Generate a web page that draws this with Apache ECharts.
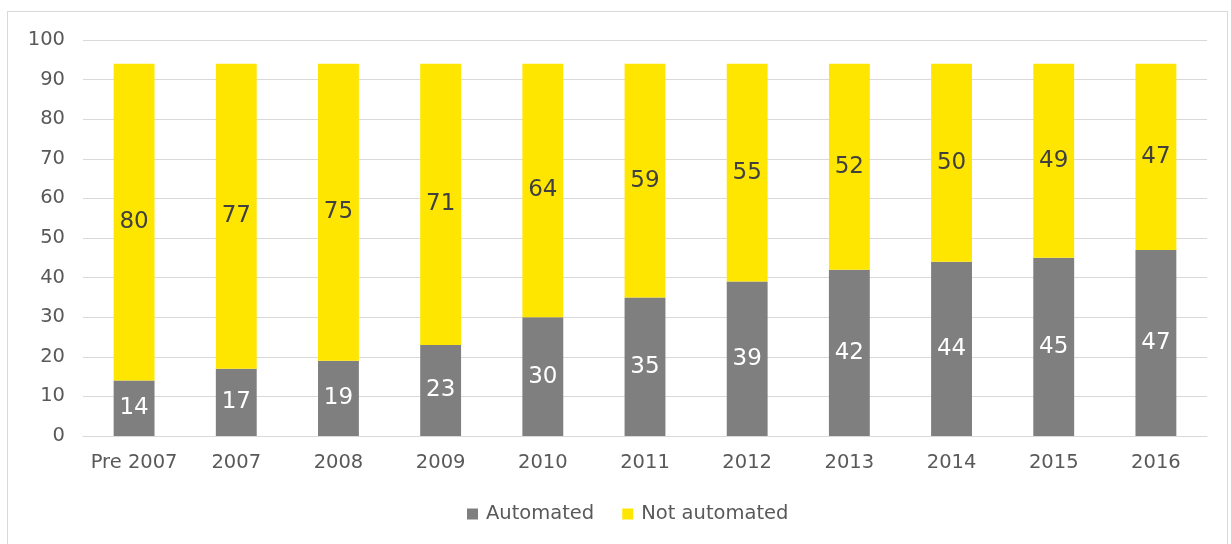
<!DOCTYPE html>
<html>
<head>
<meta charset="utf-8">
<script src="https://cdn.jsdelivr.net/npm/echarts@6/dist/echarts.min.js"></script>
<style>
html,body{margin:0;padding:0;background:#fff;}
#frame{position:absolute;left:7px;top:11px;width:1221px;height:540px;border:1px solid #d9d9d9;box-sizing:border-box;}
#chart{position:absolute;left:0;top:0;width:1231px;height:544px;}
</style>
</head>
<body>
<div id="frame"></div>
<div id="chart"></div>
<script>
var categories = ['Pre 2007','2007','2008','2009','2010','2011','2012','2013','2014','2015','2016'];
var automated = [14,17,19,23,30,35,39,42,44,45,47];
var notAutomated = [80,77,75,71,64,59,55,52,50,49,47];
var seriesNames = ['Automated','Not automated'];

var font = 'DejaVu Sans, Verdana, sans-serif';
var chart = echarts.init(document.getElementById('chart'));
chart.setOption({
  animation: false,
  grid: {left: 83, right: 24, top: 40, bottom: 108, containLabel: false},
  legend: {
    top: 499, left: 462,
    itemWidth: 11, itemHeight: 11, itemGap: 28,
    icon: 'rect',
    textStyle: {fontFamily: font, fontSize: 19.5, color: '#595959', padding: [0, 0, 0, 3]},
    data: seriesNames
  },
  xAxis: {
    type: 'category', data: categories,
    axisLine: {show: true, lineStyle: {color: '#d9d9d9'}},
    axisTick: {show: false},
    axisLabel: {interval: 0, fontFamily: font, fontSize: 19.5, color: '#595959', margin: 17}
  },
  yAxis: {
    type: 'value', min: 0, max: 100, interval: 10,
    axisLine: {show: false}, axisTick: {show: false},
    splitLine: {lineStyle: {color: '#d9d9d9'}},
    axisLabel: {fontFamily: font, fontSize: 19.5, color: '#595959', margin: 18}
  },
  series: [
    {
      name: seriesNames[0], type: 'bar', stack: 'a', data: automated,
      barWidth: '40%',
      itemStyle: {color: '#7f7f7f'},
      label: {show: true, position: 'inside', fontFamily: font, fontSize: 23, color: '#ffffff'}
    },
    {
      name: seriesNames[1], type: 'bar', stack: 'a', data: notAutomated,
      barWidth: '40%',
      itemStyle: {color: '#ffe600'},
      label: {show: true, position: 'inside', fontFamily: font, fontSize: 23, color: '#404040'}
    }
  ]
});
</script>
</body>
</html>
